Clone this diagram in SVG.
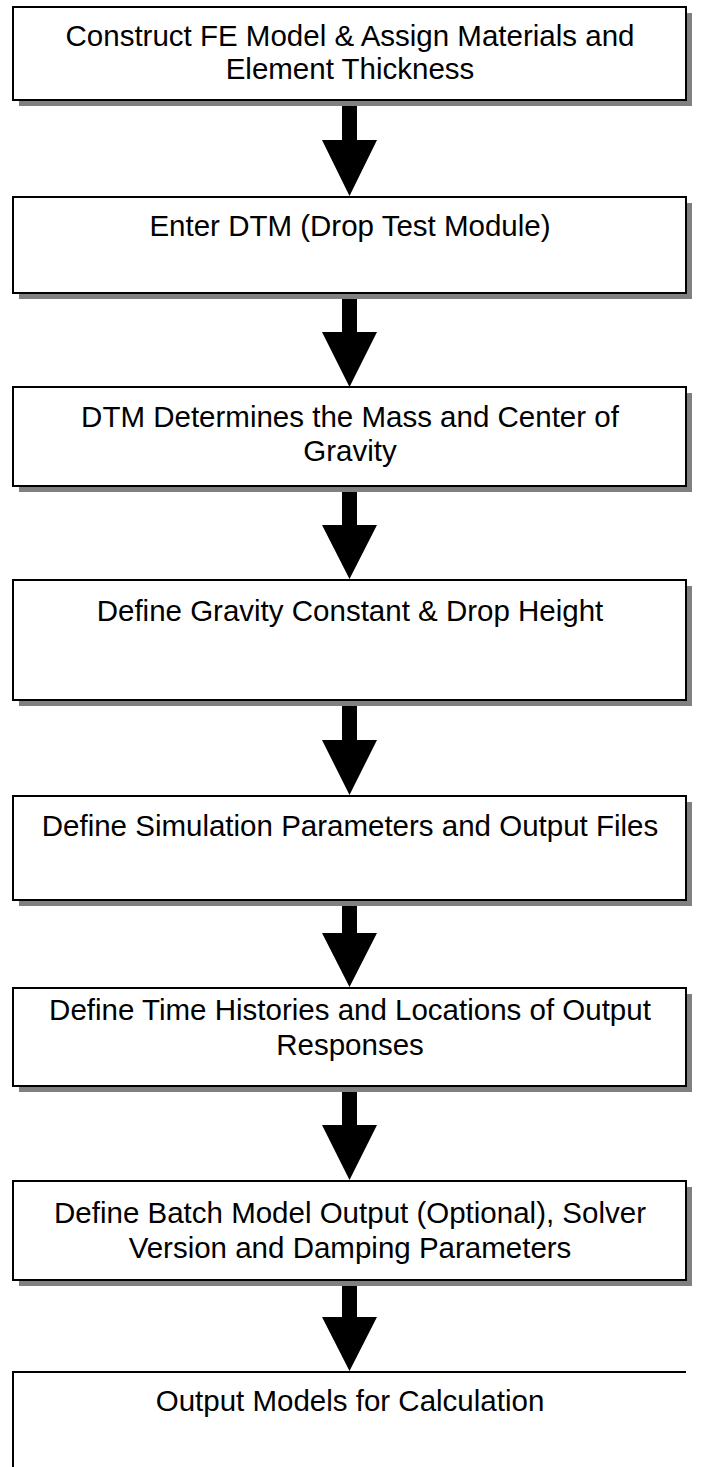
<svg xmlns="http://www.w3.org/2000/svg" width="701" height="1467" viewBox="0 0 701 1467">
<style>
.sh{fill:#808080}
.bx{fill:#fff;stroke:#000;stroke-width:2}
.t{font-family:"Liberation Sans",Arial,sans-serif;font-size:29.5px;fill:#000;text-anchor:middle}
.ar{fill:#000}
</style>
<rect width="701" height="1467" fill="#fff"/>
<g id="n1"><rect class="sh" x="19" y="13" width="673" height="93"/><rect class="bx" x="13" y="7" width="673" height="93"/><text class="t" x="350" y="46">Construct FE Model &amp; Assign Materials and</text><text class="t" x="350" y="79">Element Thickness</text></g>
<g id="n2"><rect class="sh" x="19" y="203" width="673" height="96"/><rect class="bx" x="13" y="197" width="673" height="96"/><text class="t" x="350" y="236">Enter DTM (Drop Test Module)</text></g>
<g id="n3"><rect class="sh" x="19" y="393" width="673" height="99"/><rect class="bx" x="13" y="387" width="673" height="99"/><text class="t" x="350" y="427">DTM Determines the Mass and Center of</text><text class="t" x="350" y="461">Gravity</text></g>
<g id="n4"><rect class="sh" x="19" y="586" width="673" height="120"/><rect class="bx" x="13" y="580" width="673" height="120"/><text class="t" x="350" y="621">Define Gravity Constant &amp; Drop Height</text></g>
<g id="n5"><rect class="sh" x="19" y="802" width="673" height="104"/><rect class="bx" x="13" y="796" width="673" height="104"/><text class="t" x="350" y="836">Define Simulation Parameters and Output Files</text></g>
<g id="n6"><rect class="sh" x="19" y="994" width="673" height="98"/><rect class="bx" x="13" y="988" width="673" height="98"/><text class="t" x="350" y="1020">Define Time Histories and Locations of Output</text><text class="t" x="350" y="1055">Responses</text></g>
<g id="n7"><rect class="sh" x="19" y="1187" width="673" height="99"/><rect class="bx" x="13" y="1181" width="673" height="99"/><text class="t" x="350" y="1223">Define Batch Model Output (Optional), Solver</text><text class="t" x="350" y="1258">Version and Damping Parameters</text></g>
<g id="n8"><path d="M13 1468 V1372 H686" fill="none" stroke="#000" stroke-width="2"/><text class="t" x="350" y="1411">Output Models for Calculation</text></g>
<g id="connectors">
<path class="ar" d="M342 106 H357 V140 H377 L349.5 196 L322 140 H342 Z"/>
<path class="ar" d="M342 299 H357 V332 H377 L349.5 387 L322 332 H342 Z"/>
<path class="ar" d="M342 492 H357 V525 H377 L349.5 579 L322 525 H342 Z"/>
<path class="ar" d="M342 706 H357 V740 H377 L349.5 795 L322 740 H342 Z"/>
<path class="ar" d="M342 906 H357 V933 H377 L349.5 987 L322 933 H342 Z"/>
<path class="ar" d="M342 1092 H357 V1125 H377 L349.5 1180 L322 1125 H342 Z"/>
<path class="ar" d="M342 1286 H357 V1317 H377 L349.5 1371 L322 1317 H342 Z"/>
</g>
</svg>
